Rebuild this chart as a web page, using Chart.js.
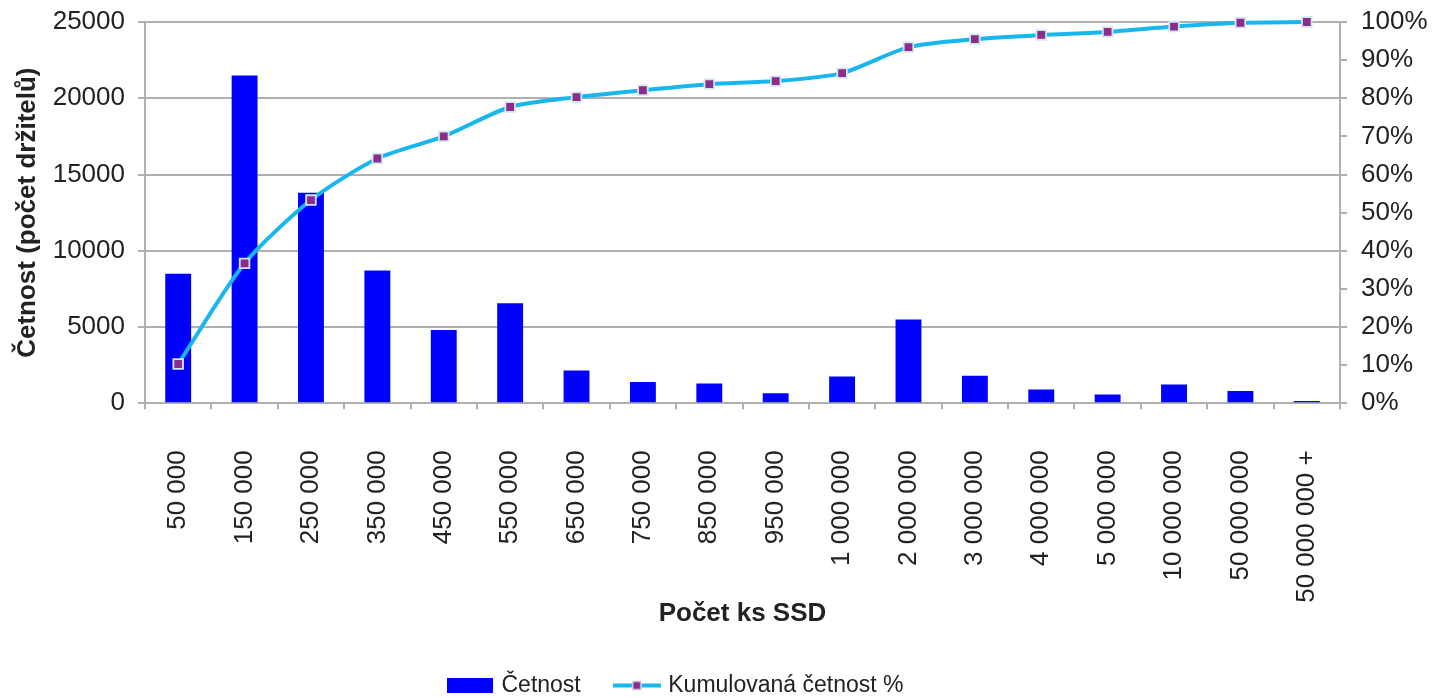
<!DOCTYPE html>
<html>
<head>
<meta charset="utf-8">
<title>Četnost držitelů SSD</title>
<script src="https://cdn.jsdelivr.net/npm/chart.js@4.4.1/dist/chart.umd.min.js"></script>
<style>
  html, body { margin: 0; padding: 0; background: #fff; }
  #wrap { width: 1433px; height: 698px; }
</style>
</head>
<body>
<div id="wrap"><canvas id="graf" width="1433" height="698"></canvas></div>
<script>
  // kategorie (pocet ks SSD)
  var kategorie = ['50 000', '150 000', '250 000', '350 000', '450 000', '550 000',
    '650 000', '750 000', '850 000', '950 000', '1 000 000', '2 000 000',
    '3 000 000', '4 000 000', '5 000 000', '10 000 000', '50 000 000', '50 000 000 +'];
  // cetnost (pocet drzitelu)
  var cetnost = [8500, 21500, 13800, 8700, 4800, 6550, 2150, 1400, 1300,
    650, 1750, 5500, 1800, 900, 570, 1230, 810, 150];
  // kumulovana cetnost v %
  var kumulovana = [10.3, 36.7, 53.3, 64.2, 70.0, 77.7, 80.3, 82.1, 83.7,
    84.5, 86.6, 93.4, 95.5, 96.6, 97.4, 98.8, 99.8, 100];

  var modra = '#0000ff';
  var svetleModra = '#18b6ef';
  var fialova = '#8a2d8c';
  var seda = '#b0b0b0';
  var text = '#222222';

  Chart.defaults.font.family = '"Liberation Sans", Arial, sans-serif';
  Chart.defaults.color = text;

  // ikonky do legendy
  var ikonaSloupec = document.createElement('canvas');
  ikonaSloupec.width = 46;
  ikonaSloupec.height = 15;
  var c1 = ikonaSloupec.getContext('2d');
  c1.fillStyle = modra;
  c1.fillRect(0, 0, 46, 15);

  var ikonaCara = document.createElement('canvas');
  ikonaCara.width = 48;
  ikonaCara.height = 12;
  var c2 = ikonaCara.getContext('2d');
  c2.strokeStyle = svetleModra;
  c2.lineWidth = 4;
  c2.beginPath();
  c2.moveTo(0, 6);
  c2.lineTo(48, 6);
  c2.stroke();
  c2.fillStyle = '#d4e6ec';
  c2.fillRect(19, 1, 10, 10);
  c2.fillStyle = fialova;
  c2.fillRect(20.5, 2.5, 7, 7);

  // posun legendy (v originale neni uplne na stredu)
  var posunLegendy = {
    id: 'posunLegendy',
    afterLayout: function (chart) {
      var l = chart.legend;
      l.left -= 43;
      l.right -= 43;
      l.top += 9;
      l.bottom += 9;
    }
  };

  var ctx = document.getElementById('graf').getContext('2d');
  var graf = new Chart(ctx, {
    type: 'bar',
    data: {
      labels: kategorie,
      datasets: [{
        label: 'Četnost',
        data: cetnost,
        backgroundColor: modra,
        borderWidth: 0,
        barPercentage: 0.39,
        categoryPercentage: 1,
        yAxisID: 'y',
        order: 2
      }, {
        type: 'line',
        label: 'Kumulovaná četnost %',
        data: kumulovana,
        borderColor: svetleModra,
        borderWidth: 4,
        tension: 0.25,
        pointStyle: 'rect',
        pointRadius: 6.8,
        pointBackgroundColor: fialova,
        pointBorderColor: '#d4e6ec',
        pointBorderWidth: 1.8,
        clip: false,
        yAxisID: 'y1',
        order: 1
      }]
    },
    plugins: [posunLegendy],
    options: {
      responsive: false,
      animation: false,
      layout: {
        padding: { top: 22, left: 12, right: 5.5, bottom: 0 }
      },
      plugins: {
        tooltip: { enabled: false },
        legend: {
          position: 'bottom',
          labels: {
            usePointStyle: true,
            pointStyleWidth: 40,
            boxHeight: 15,
            padding: 36,
            color: text,
            font: { size: 23 },
            generateLabels: function (chart) {
              return chart.data.datasets.map(function (ds, i) {
                return {
                  text: ds.label,
                  pointStyle: i === 0 ? ikonaSloupec : ikonaCara,
                  fillStyle: 'transparent',
                  strokeStyle: 'transparent',
                  lineWidth: 0,
                  fontColor: text,
                  hidden: !chart.isDatasetVisible(i),
                  datasetIndex: i
                };
              });
            }
          }
        }
      },
      scales: {
        x: {
          grid: { offset: true, drawOnChartArea: false, tickLength: 6, color: seda, lineWidth: 2 },
          border: { color: seda, width: 2 },
          ticks: { autoSkip: false, minRotation: 90, maxRotation: 90, padding: 41, font: { size: 26 } },
          title: {
            display: true,
            text: 'Počet ks SSD',
            font: { size: 26, weight: 'bold' },
            padding: { top: -5, bottom: 0 }
          },
          afterFit: function (scale) {
            // padding labelu se pocita dvakrat
            scale.height -= 41;
            scale.paddingLeft = 0;
            scale.paddingRight = 0;
          }
        },
        y: {
          position: 'left',
          min: 0,
          max: 25000,
          ticks: {
            stepSize: 5000,
            padding: 13,
            font: { size: 26 },
            callback: function (v) { return String(v); }
          },
          grid: { color: seda, lineWidth: 2, tickLength: 7 },
          border: { color: seda, width: 2 },
          title: {
            display: true,
            text: 'Četnost (počet držitelů)',
            font: { size: 26, weight: 'bold' },
            padding: { top: 0, bottom: 12 }
          },
          afterFit: function (scale) {
            scale.width = 133;
            scale.paddingTop = 0;
            scale.paddingBottom = 0;
          }
        },
        y1: {
          position: 'right',
          min: 0,
          max: 100,
          ticks: {
            stepSize: 10,
            autoSkip: false,
            padding: 14,
            font: { size: 26 },
            callback: function (v) { return v + '%'; }
          },
          grid: { drawOnChartArea: false, tickLength: 7, color: seda, lineWidth: 2 },
          border: { color: seda, width: 2 },
          afterFit: function (scale) {
            scale.width = 87.5;
            scale.paddingTop = 0;
            scale.paddingBottom = 0;
          }
        }
      }
    }
  });
  console.log(graf.chartArea);
</script>
</body>
</html>
